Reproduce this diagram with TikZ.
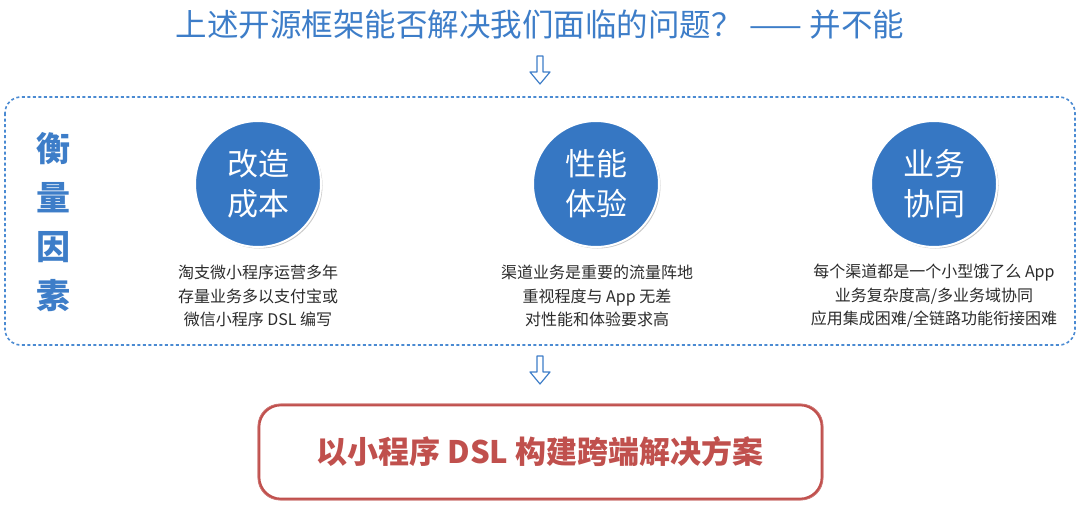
\documentclass[tikz,border=0pt]{standalone}
\usepackage{fontspec}
\setmainfont{Noto Sans CJK SC}
\usetikzlibrary{shadows}
\definecolor{tblue}{HTML}{3D7DC8}
\definecolor{cblue}{HTML}{3677C3}
\definecolor{dblue}{HTML}{4A8AD2}
\definecolor{tred}{HTML}{C0504D}
\definecolor{tgray}{HTML}{2B2B2B}
\tikzset{
  circ/.style={circle, fill=cblue, draw=white, line width=2pt, minimum size=126pt, inner sep=0pt,
    text=white, align=center, font=\fontsize{31}{40}\selectfont,
    drop shadow={shadow xshift=1.5pt, shadow yshift=-1.5pt, opacity=0.35, fill=black!60}},
  desc/.style={align=center, text=tgray, font=\fontsize{16}{23.5}\selectfont, inner sep=0pt},
  hollow/.style={draw=tblue, fill=white, line width=1.2pt, line join=round},
}
\begin{document}
\begin{tikzpicture}[x=1pt,y=-1pt]
\useasboundingbox (0,0) rectangle (1080,504);
% title
\node[text=tblue, font=\fontsize{31.5}{36}\selectfont, inner sep=0pt] (title) at (540,25)
  {上述开源框架能否解决我们面临的问题？ —— 并不能};
% dashed frame
\draw[dblue, line width=1.6pt, dash pattern=on 3pt off 2.5pt, rounded corners=16pt]
  (5,97) rectangle (1075,345);
\node (frame) at (540,221) {};
% arrow 1
\draw[hollow] (537,56) -- (543,56) -- (543,72) -- (550,72) -- (540,84) -- (530,72) -- (537,72) -- cycle;
% left vertical label
\node[text=tblue, font=\fontsize{34}{49}\selectfont\bfseries, align=center, inner sep=0pt] (lab) at (53,222)
  {衡\\量\\因\\素};
% circles
\node[circ] (c1) at (258,184) {改造\\成本};
\node[circ] (c2) at (596,184) {性能\\体验};
\node[circ] (c3) at (934,184) {业务\\协同};
% descriptions
\node[desc] (d1) at (258,296) {淘支微小程序运营多年\\存量业务多以支付宝或\\微信小程序 DSL 编写};
\node[desc] (d2) at (597,296) {渠道业务是重要的流量阵地\\重视程度与 App 无差\\对性能和体验要求高};
\node[desc] (d3) at (934,296) {每个渠道都是一个小型饿了么 App\\业务复杂度高/多业务域协同\\应用集成困难/全链路功能衔接困难};
% arrow 2
\draw[hollow] (537,356) -- (543,356) -- (543,372) -- (550,372) -- (540,384) -- (530,372) -- (537,372) -- cycle;
% red box
\draw[tred, line width=2.6pt, rounded corners=22pt] (259,405) rectangle (822,499);
\draw[tred!80, line width=0.8pt, rounded corners=22pt] (258,404) rectangle (823,500);
\node[text=tred, font=\fontsize{31}{36}\selectfont\bfseries, inner sep=0pt] (res) at (540,452)
  {以小程序 DSL 构建跨端解决方案};
\end{tikzpicture}
\end{document}
